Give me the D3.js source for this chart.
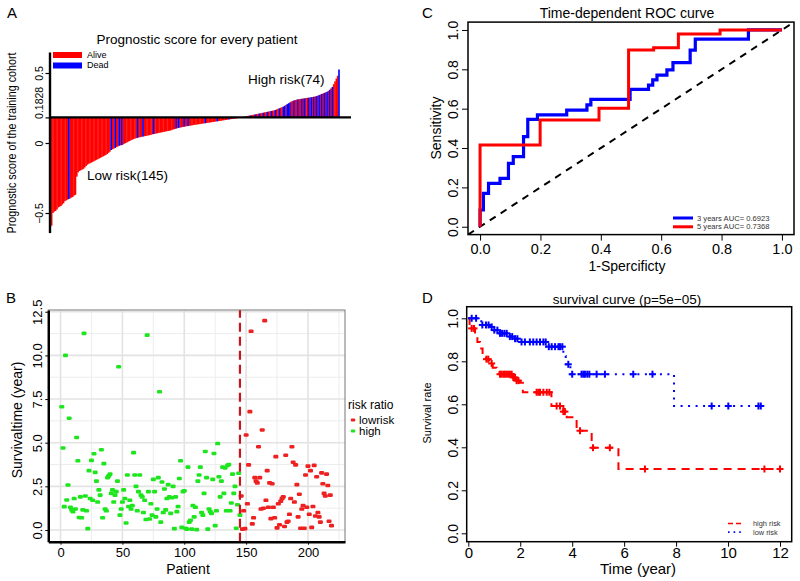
<!DOCTYPE html>
<html>
<head>
<meta charset="utf-8">
<script src="https://cdn.jsdelivr.net/npm/d3@7"></script>
<style>
body { margin: 0; background: #fff; }
svg { font-family: "Liberation Sans", Arial, sans-serif; }
</style>
</head>
<body>
<script>
// ---- panel A: risk score per patient (sorted) ----
const riskScore = [
  -0.60, -0.59, -0.50, -0.49, -0.485, -0.475, -0.46, -0.455, -0.45, -0.44,
  -0.43, -0.415, -0.41, -0.405, -0.40, -0.395, -0.39, -0.385, -0.375, -0.37,
  -0.24, -0.21, -0.2, -0.195, -0.19, -0.185, -0.175, -0.165, -0.155, -0.148,
  -0.145, -0.14, -0.135, -0.13, -0.125, -0.12, -0.115,
  -0.11, -0.105, -0.1, -0.095, -0.09, -0.085, -0.078, -0.07, -0.062,
  -0.05, -0.045, -0.04, -0.035, -0.03, -0.025, -0.02, -0.017, -0.015,
  -0.01, -0.005, 0, 0.005, 0.01, 0.015, 0.02, 0.024, 0.028, 0.032,
  0.035, 0.037, 0.04, 0.042, 0.044, 0.046, 0.048, 0.05, 0.052, 0.054, 0.056, 0.058,
  0.062, 0.064, 0.066, 0.068, 0.07, 0.072, 0.074, 0.076, 0.078, 0.08, 0.082, 0.084, 0.086, 0.088, 0.09,
  0.094, 0.097, 0.1, 0.103, 0.106, 0.108, 0.11, 0.112, 0.114, 0.116, 0.118, 0.12, 0.121, 0.123, 0.124, 0.126, 0.128, 0.13,
  0.131, 0.132, 0.134, 0.135, 0.137, 0.138, 0.14, 0.141, 0.143, 0.144,
  0.146, 0.147, 0.149, 0.15, 0.152, 0.153, 0.155, 0.156, 0.158, 0.159,
  0.161, 0.162, 0.164, 0.165, 0.167, 0.168, 0.17, 0.171, 0.173, 0.174,
  0.176, 0.177, 0.179, 0.18, 0.182,
  // high risk
  0.185, 0.187, 0.189, 0.191, 0.193, 0.195, 0.197, 0.199, 0.201, 0.203, 0.205, 0.207, 0.209,
  0.211, 0.213, 0.215, 0.217, 0.219, 0.221, 0.223, 0.225, 0.227, 0.229, 0.231, 0.233, 0.236,
  0.24, 0.244, 0.248, 0.252, 0.256, 0.26,
  0.266, 0.272, 0.278, 0.284, 0.29,
  0.296, 0.3, 0.304, 0.307, 0.31,
  0.312, 0.313, 0.315, 0.316, 0.318, 0.319, 0.321, 0.322, 0.324, 0.325, 0.327, 0.328, 0.33, 0.332, 0.335,
  0.338, 0.342, 0.346, 0.35, 0.354, 0.358, 0.362, 0.366,
  0.372, 0.38, 0.39, 0.4,
  0.42, 0.44, 0.46, 0.48, 0.525
];
const deadIdx = [14, 46, 49, 52, 54, 66, 70, 78, 95, 97, 101, 104, 117, 126, 135,
  147, 151, 155, 158, 161, 164, 167, 170, 173, 176, 177, 179, 180, 181, 184, 187, 190,
  192, 195, 197, 199, 201, 203, 205, 207, 209, 211, 213, 218];
const cutoff = 0.1828;
const ticksA = [-0.5, 0, 0.1828, 0.5];
const statusLabels = ['Alive', 'Dead'];

// ---- panel B: survival time per patient ----
const lowGroupTime = [
  7.06, 4.7, 1.34, 10.0, 1.72, 2.58, 6.4, 1.3, 1.15, 1.05,
  1.8, 1.2, 5.3, 3.97, 0.72, 1.9, 0.7, 1.15, 11.26, 1.95,
  1.1, 0.08, 3.4, 1.8, 3.99, 1.7, 4.37, 3.3, 2.8, 1.6,
  2.3, 2.0, 4.6, 0.7, 3.8, 1.2, 1.1, 3.0, 3.1, 3.2,
  2.1, 2.3, 1.6, 2.0, 2.2, 2.8, 9.35, 0.85, 1.2, 1.6,
  2.3, 1.8, 0.4, 3.15, 1.35, 1.7, 1.2, 1.4, 4.43, 3.15,
  2.5, 1.1, 2.2, 3.15, 2.0, 1.9, 1.0, 1.7, 0.6, 11.16,
  2.2, 0.63, 1.5, 0.85, 2.9, 2.2, 0.75, 1.2, 3.0, 7.92,
  0.45, 2.75, 1.0, 2.35, 1.15, 1.8, 2.6, 1.9, 0.95, 1.85,
  2.5, 0.08, 1.9, 1.05, 1.35, 2.95, 3.97, 0.15, 2.2, 2.25,
  0.1, 0.05, 3.6, 0.45, 0.55, 0.05, 1.4, 0.75, 1.3, 0.02,
  2.8, 3.15, 3.6, 1.0, 0.85, 2.1, 4.5, 3.0, 0.05, 1.2,
  1.05, 0.95, 2.9, 4.38, 0.25, 1.1, 4.95, 3.05, 1.9, 2.8,
  3.6, 2.1, 3.55, 1.1, 3.7, 3.75, 1.1, 1.55, 3.2, 2.1,
  2.5, 0.1, 1.45, 3.25, 0.85
];
const highGroupTime = [
  1.95, 0.05, 1.1, 0.08, 5.44, 1.5, 3.73, 6.78, 11.38, 0.35,
  0.7, 3.0, 2.8, 2.7, 4.77, 3.0, 1.2, 5.73, 1.25, 11.99,
  1.7, 3.4, 1.3, 2.7, 0.65, 2.65, 1.3, 0.7, 4.2, 0.12,
  1.5, 0.3, 1.65, 1.8, 1.9, 0.2, 4.28, 0.45, 0.5, 0.9,
  1.8, 4.77, 3.88, 1.6, 3.73, 2.6, 0.75, 2.05, 0.1, 1.2,
  1.4, 0.1, 3.15, 1.3, 3.66, 0.9, 3.4, 0.15, 1.35, 3.7,
  0.8, 3.05, 1.0, 0.75, 0.45, 3.27, 2.65, 2.1, 1.95, 3.2,
  2.55, 0.5, 2.0, 0.25
];
const groupLabels = ['lowrisk', 'high'];
const ticksBx = [0, 50, 100, 150, 200];
const ticksBy = [0, 2.5, 5, 7.5, 10, 12.5];

// ---- panel C: ROC steps (1-specificity, sensitivity) ----
const roc3Fpr = [0, 0, 0.011, 0.028, 0.066, 0.094, 0.11, 0.144, 0.158, 0.19, 0.287, 0.354, 0.367, 0.497, 0.558, 0.572, 0.586, 0.619, 0.639, 0.696, 0.713, 0.889, 1.0];
const roc3Tpr = [0, 0.085, 0.17, 0.22, 0.246, 0.322, 0.356, 0.458, 0.546, 0.568, 0.593, 0.619, 0.647, 0.698, 0.72, 0.746, 0.771, 0.797, 0.834, 0.898, 0.953, 1.0, 1.0];
const roc5Fpr = [0, 0, 0.199, 0.394, 0.492, 0.575, 0.657, 0.795, 1.0];
const roc5Tpr = [0, 0.415, 0.542, 0.602, 0.898, 0.91, 0.98, 1.0, 1.0];
const rocLabels = ['3 years AUC= 0.6923', '5 years AUC= 0.7368'];
const ticksC = [0, 0.2, 0.4, 0.6, 0.8, 1.0];

// ---- panel D: Kaplan-Meier steps and censoring times ----
const highT = [0, 0.05, 0.26, 0.35, 0.45, 0.55, 0.68, 0.81, 0.94, 1.09, 1.22, 1.73, 1.86, 1.99, 2.1, 3.2, 3.66, 3.79, 4.17, 4.75, 5.78, 12.0];
const highS = [1.0, 0.953, 0.922, 0.89, 0.86, 0.83, 0.81, 0.79, 0.77, 0.75, 0.74, 0.725, 0.71, 0.70, 0.656, 0.592, 0.566, 0.54, 0.477, 0.398, 0.299, 0.299];
const highCens = [0.13, 0.22, 0.7, 0.77, 0.9, 1.22, 1.28, 1.35, 1.41, 1.48, 1.54, 1.6, 1.67, 1.73, 1.8, 1.86, 1.93, 2.63, 2.7, 2.76, 2.89, 3.02, 3.12, 3.4, 3.53, 3.66, 3.72, 4.3, 4.8, 5.45, 6.8, 11.4, 12.0];
const lowT = [0, 0.5, 0.8, 1.0, 1.2, 1.5, 1.75, 2.0, 3.0, 3.66, 3.75, 3.93, 7.92, 11.36];
const lowS = [1.0, 0.969, 0.96, 0.945, 0.93, 0.915, 0.905, 0.89, 0.868, 0.825, 0.786, 0.74, 0.592, 0.592];
const lowCens = [0.13, 0.3, 0.54, 0.68, 0.78, 0.9, 1.0, 1.12, 1.22, 1.3, 1.39, 1.48, 1.6, 1.69, 1.8, 1.89, 2.05, 2.18, 2.37, 2.5, 2.63, 2.76, 2.89, 2.98, 3.1, 3.21, 3.34, 3.47, 3.53, 3.62, 3.85, 4.0, 4.36, 4.43, 4.49, 4.58, 4.66, 4.94, 5.26, 6.35, 7.09, 9.37, 10.01, 11.17, 11.26];
const kmLabels = ['high risk', 'low risk'];
const ticksDx = [0, 2, 4, 6, 8, 10, 12];
const ticksDy = [0, 0.2, 0.4, 0.6, 0.8, 1.0];

const RED = '#ff0000', BLUE = '#0000ff';

const svg = d3.select('body').append('svg')
    .attr('width', 800)
    .attr('height', 581);

// rotate left-axis tick labels like R does
const rotateLabels = (axisG, off, size) => {
    axisG.selectAll('.tick text')
        .attr('x', 0).attr('dy', 0)
        .attr('text-anchor', 'middle')
        .attr('font-size', size)
        .attr('fill', '#000')
        .attr('transform', 'translate(' + (-off) + ',0) rotate(-90)');
};

const letter = (t, x, y) => svg.append('text')
    .attr('x', x).attr('y', y)
    .attr('font-size', 15)
    .text(t);

// ================= A =================
const drawA = () => {
    const g = svg.append('g');
    const x = d3.scaleBand()
        .domain(d3.range(riskScore.length))
        .range([49.5, 339.5]);
    const y = d3.scaleLinear()
        .domain([-0.64, 0.65])
        .range([232.6, 52]);
    const dead = new Set(deadIdx);
    const bars = riskScore.map((v, i) => ({i, v, dead: dead.has(i)}));
    const ordered = bars.filter(d => !d.dead).concat(bars.filter(d => d.dead));

    g.selectAll('rect.bar')
        .data(ordered)
        .enter()
        .append('rect')
        .attr('x', d => x(d.i))
        .attr('width', x.bandwidth() + 0.3)
        .attr('y', d => Math.min(y(cutoff), y(d.v)))
        .attr('height', d => Math.abs(y(d.v) - y(cutoff)))
        .attr('fill', d => d.dead ? BLUE : RED);

    g.append('line')
        .attr('x1', 49).attr('x2', 351)
        .attr('y1', y(cutoff)).attr('y2', y(cutoff))
        .attr('stroke', '#000').attr('stroke-width', 2.4);

    const ax = g.append('g')
        .attr('transform', 'translate(49.5,0)')
        .call(d3.axisLeft(y).tickValues(ticksA).tickSize(4).tickSizeOuter(0)
            .tickFormat(d => d === cutoff ? '0.1828' : d3.format('')(d)));
    ax.select('.domain').attr('stroke-width', 2.4);
    ax.selectAll('.tick line').attr('stroke-width', 1.2);
    rotateLabels(ax, 7, 10.5);
    ax.selectAll('.tick text')
        .filter(d => d === cutoff)
        .attr('text-anchor', 'start')
        .attr('transform', 'translate(-7,1) rotate(-90)');

    g.append('text')
        .attr('transform', 'translate(16,143) rotate(-90)')
        .attr('text-anchor', 'middle')
        .attr('font-size', 12)
        .attr('textLength', 181)
        .attr('lengthAdjust', 'spacingAndGlyphs')
        .text('Prognostic score of the training cohort');

    g.append('text')
        .attr('x', 197).attr('y', 44)
        .attr('text-anchor', 'middle')
        .attr('font-size', 13.5)
        .text('Prognostic score for every patient');

    const leg = g.selectAll('g.leg')
        .data(statusLabels)
        .enter()
        .append('g')
        .attr('transform', (d, i) => 'translate(53,' + (52 + i * 10.5) + ')');
    leg.append('rect')
        .attr('width', 29).attr('height', 6)
        .attr('fill', (d, i) => i ? BLUE : RED);
    leg.append('text')
        .attr('x', 34).attr('y', 5.6)
        .attr('font-size', 9)
        .text(d => d);

    g.append('text').attr('x', 248).attr('y', 84).attr('font-size', 13.5).text('High risk(74)');
    g.append('text').attr('x', 87).attr('y', 180).attr('font-size', 13.5).text('Low risk(145)');
};

// ================= B =================
const drawB = () => {
    const g = svg.append('g');
    const x = d3.scaleLinear().domain([-9.9, 229.9]).range([48.3, 345]);
    const y = d3.scaleLinear().domain([-0.67, 12.6]).range([541.7, 310]);
    const pts = lowGroupTime.map((v, i) => ({p: i + 1, v, grp: 0}))
        .concat(highGroupTime.map((v, i) => ({p: lowGroupTime.length + i + 1, v, grp: 1})));

    g.append('rect')
        .attr('x', 48.3).attr('y', 310)
        .attr('width', 345 - 48.3).attr('height', 541.7 - 310)
        .attr('fill', '#fff');

    const minorX = [25, 75, 125, 175, 225], minorY = [1.25, 3.75, 6.25, 8.75, 11.25];
    g.selectAll('line.mx').data(minorX).enter().append('line')
        .attr('x1', d => x(d)).attr('x2', d => x(d)).attr('y1', 310).attr('y2', 541.7)
        .attr('stroke', '#ebebeb').attr('stroke-width', 0.9);
    g.selectAll('line.my').data(minorY).enter().append('line')
        .attr('y1', d => y(d)).attr('y2', d => y(d)).attr('x1', 48.3).attr('x2', 345)
        .attr('stroke', '#ebebeb').attr('stroke-width', 0.9);
    g.selectAll('line.gx').data(ticksBx).enter().append('line')
        .attr('x1', d => x(d)).attr('x2', d => x(d)).attr('y1', 310).attr('y2', 541.7)
        .attr('stroke', '#e3e3e3').attr('stroke-width', 1.6);
    g.selectAll('line.gy').data(ticksBy).enter().append('line')
        .attr('y1', d => y(d)).attr('y2', d => y(d)).attr('x1', 48.3).attr('x2', 345)
        .attr('stroke', '#e3e3e3').attr('stroke-width', 1.6);

    g.selectAll('rect.pt')
        .data(pts)
        .enter()
        .append('rect')
        .attr('x', d => x(d.p) - 2.5)
        .attr('y', d => y(d.v) - 1.8)
        .attr('width', 5).attr('height', 3.6)
        .attr('rx', 1.2)
        .attr('fill', d => d.grp ? '#ee2020' : '#1ee61e');

    g.append('line')
        .attr('x1', x(145)).attr('x2', x(145))
        .attr('y1', 541.7).attr('y2', 310)
        .attr('stroke', '#c4161c').attr('stroke-width', 2.2)
        .attr('stroke-dasharray', '9,5');

    g.append('rect')
        .attr('x', 48.3).attr('y', 310)
        .attr('width', 345 - 48.3).attr('height', 541.7 - 310)
        .attr('fill', 'none').attr('stroke', '#777').attr('stroke-width', 1);

    const ay = g.append('g')
        .attr('transform', 'translate(48.3,0)')
        .call(d3.axisLeft(y).tickValues(ticksBy).tickSize(3).tickSizeOuter(0).tickFormat(d3.format('.1f')));
    ay.select('.domain').attr('stroke-width', 2.4);
    rotateLabels(ay, 6, 13);

    const axB = g.append('g')
        .attr('transform', 'translate(0,541.7)')
        .call(d3.axisBottom(x).tickValues(ticksBx).tickSize(3).tickSizeOuter(0));
    axB.select('.domain').attr('stroke-width', 2.4);
    axB.selectAll('.tick text').attr('font-size', 13).attr('fill', '#000').attr('y', 6);

    g.append('text')
        .attr('transform', 'translate(22,420) rotate(-90)')
        .attr('text-anchor', 'middle')
        .attr('font-size', 14)
        .text('Survivaltime (year)');
    g.append('text')
        .attr('x', 188).attr('y', 574)
        .attr('text-anchor', 'middle')
        .attr('font-size', 14)
        .text('Patient');

    g.append('text').attr('x', 348).attr('y', 409).attr('font-size', 12).text('risk ratio');
    const leg = g.selectAll('g.legB')
        .data(groupLabels)
        .enter()
        .append('g')
        .attr('transform', (d, i) => 'translate(353,' + (420 + i * 11) + ')');
    leg.append('rect')
        .attr('x', -2.2).attr('y', -1.6).attr('width', 4.4).attr('height', 3.2).attr('rx', 1)
        .attr('fill', (d, i) => i ? '#1ee61e' : '#ee2020');
    leg.append('text')
        .attr('x', 6).attr('y', 4)
        .attr('font-size', 11.5)
        .text(d => d);
};

// ================= C =================
const drawC = () => {
    const g = svg.append('g');
    const x = d3.scaleLinear().domain([-0.04, 1.04]).range([468, 794]);
    const y = d3.scaleLinear().domain([-0.04, 1.04]).range([234.6, 22.1]);
    g.append('clipPath').attr('id', 'clipC')
        .append('rect').attr('x', 468).attr('y', 22.1).attr('width', 326).attr('height', 212.5);

    g.append('line')
        .attr('clip-path', 'url(#clipC)')
        .attr('x1', x(-0.04)).attr('y1', y(-0.04))
        .attr('x2', x(1.04)).attr('y2', y(1.04))
        .attr('stroke', '#000').attr('stroke-width', 2)
        .attr('stroke-dasharray', '7,6');

    const line = d3.line()
        .x(d => x(d[0]))
        .y(d => y(d[1]))
        .curve(d3.curveStepAfter);
    g.append('path')
        .datum(d3.zip(roc3Fpr, roc3Tpr))
        .attr('d', line)
        .attr('fill', 'none').attr('stroke', BLUE).attr('stroke-width', 3.2);
    g.append('path')
        .datum(d3.zip(roc5Fpr, roc5Tpr))
        .attr('d', line)
        .attr('fill', 'none').attr('stroke', RED).attr('stroke-width', 3);

    g.append('rect')
        .attr('x', 468).attr('y', 22.1).attr('width', 326).attr('height', 212.5)
        .attr('fill', 'none').attr('stroke', '#000').attr('stroke-width', 1.5);

    const ax = g.append('g')
        .attr('transform', 'translate(0,234.6)')
        .call(d3.axisBottom(x).tickValues(ticksC).tickSize(6).tickSizeOuter(0).tickFormat(d3.format('.1f')));
    ax.select('.domain').remove();
    ax.selectAll('.tick text').attr('font-size', 14.5).attr('fill', '#000').attr('y', 9);

    const ay = g.append('g')
        .attr('transform', 'translate(468,0)')
        .call(d3.axisLeft(y).tickValues(ticksC).tickSize(6).tickSizeOuter(0).tickFormat(d3.format('.1f')));
    ay.select('.domain').remove();
    rotateLabels(ay, 10, 14);

    g.append('text')
        .attr('x', 627).attr('y', 18)
        .attr('text-anchor', 'middle')
        .attr('font-size', 14)
        .text('Time-dependent ROC curve');
    g.append('text')
        .attr('transform', 'translate(441,128) rotate(-90)')
        .attr('text-anchor', 'middle')
        .attr('font-size', 14)
        .text('Sensitivity');
    g.append('text')
        .attr('x', 627).attr('y', 271)
        .attr('text-anchor', 'middle')
        .attr('font-size', 14)
        .text('1-Spercificty');

    const leg = g.selectAll('g.legC')
        .data(rocLabels)
        .enter()
        .append('g')
        .attr('transform', (d, i) => 'translate(673,' + (218 + i * 8.8) + ')');
    leg.append('line')
        .attr('x1', 0).attr('x2', 20)
        .attr('stroke', (d, i) => i ? RED : BLUE).attr('stroke-width', 3);
    leg.append('text')
        .attr('x', 24).attr('y', 2.6)
        .attr('font-size', 7.6)
        .attr('fill', '#333')
        .text(d => d);
};

// ================= D =================
const drawD = () => {
    const g = svg.append('g');
    const x = d3.scaleLinear().domain([0, 12]).range([468.3, 780]);
    const y = d3.scaleLinear().domain([0, 1]).range([533.3, 318.3]);
    const stepAt = (ts, ss, t) => ss[Math.max(0, d3.bisectRight(ts, t) - 1)];

    const line = d3.line()
        .x(d => x(d[0]))
        .y(d => y(d[1]))
        .curve(d3.curveStepAfter);

    const groups = [
        {t: highT, s: highS, c: highCens, col: RED, dash: '8,6'},
        {t: lowT, s: lowS, c: lowCens, col: BLUE, dash: '2,5.5'}
    ];
    groups.forEach(gr => {
        g.append('path')
            .datum(d3.zip(gr.t, gr.s))
            .attr('d', line)
            .attr('fill', 'none')
            .attr('stroke', gr.col).attr('stroke-width', 2)
            .attr('stroke-dasharray', gr.dash);
        const cm = g.selectAll(null)
            .data(gr.c)
            .enter()
            .append('g')
            .attr('transform', d => 'translate(' + x(d) + ',' + y(stepAt(gr.t, gr.s, d)) + ')');
        cm.append('line').attr('x1', -3.5).attr('x2', 3.5)
            .attr('stroke', gr.col).attr('stroke-width', 2);
        cm.append('line').attr('y1', -3.5).attr('y2', 3.5)
            .attr('stroke', gr.col).attr('stroke-width', 2);
    });

    g.append('rect')
        .attr('x', 466.7).attr('y', 306.7).attr('width', 791.7 - 466.7).attr('height', 541.7 - 306.7)
        .attr('fill', 'none').attr('stroke', '#000').attr('stroke-width', 1.5);

    const ax = g.append('g')
        .attr('transform', 'translate(0,541.7)')
        .call(d3.axisBottom(x).tickValues(ticksDx).tickSize(5).tickSizeOuter(0));
    ax.select('.domain').remove();
    ax.selectAll('.tick text').attr('font-size', 15).attr('fill', '#000').attr('y', 6);

    const ay = g.append('g')
        .attr('transform', 'translate(466.7,0)')
        .call(d3.axisLeft(y).tickValues(ticksDy).tickSize(5).tickSizeOuter(0).tickFormat(d3.format('.1f')));
    ay.select('.domain').remove();
    rotateLabels(ay, 9, 14);

    g.append('text')
        .attr('x', 627).attr('y', 304)
        .attr('text-anchor', 'middle')
        .attr('font-size', 13.5)
        .text('survival curve (p=5e\u221205)');
    g.append('text')
        .attr('transform', 'translate(431,413) rotate(-90)')
        .attr('text-anchor', 'middle')
        .attr('font-size', 11)
        .text('Survival rate');
    g.append('text')
        .attr('x', 638).attr('y', 574)
        .attr('text-anchor', 'middle')
        .attr('font-size', 15)
        .text('Time (year)');

    const leg = g.selectAll('g.legD')
        .data(kmLabels)
        .enter()
        .append('g')
        .attr('transform', (d, i) => 'translate(728,' + (523.5 + i * 8.6) + ')');
    leg.append('line')
        .attr('x1', 0).attr('x2', 15)
        .attr('stroke', (d, i) => i ? BLUE : RED)
        .attr('stroke-width', 1.6)
        .attr('stroke-dasharray', (d, i) => i ? '1.6,4' : '5,3');
    leg.append('text')
        .attr('x', 25).attr('y', 2.6)
        .attr('font-size', 7.4)
        .attr('fill', '#333')
        .text(d => d);
};

drawA();
drawB();
drawC();
drawD();
letter('A', 7, 18);
letter('B', 6, 303);
letter('C', 422, 18);
letter('D', 422, 303);
</script>
</body>
</html>
